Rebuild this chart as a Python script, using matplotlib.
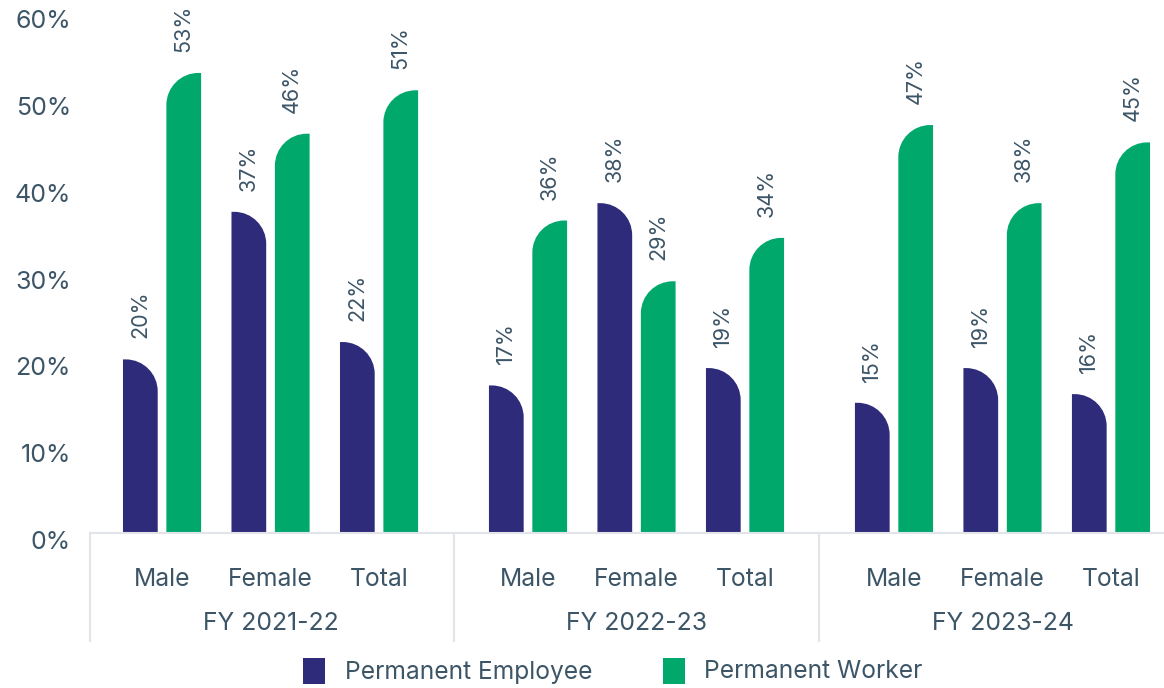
import matplotlib
matplotlib.use("Agg")
import matplotlib.pyplot as plt
from matplotlib.path import Path
from matplotlib.patches import PathPatch, Rectangle
from matplotlib.transforms import ScaledTranslation, blended_transform_factory

# ---- data -------------------------------------------------------------
years = ["FY 2021-22", "FY 2022-23", "FY 2023-24"]
categories = ["Male", "Female", "Total"]
series_names = ["Permanent Employee", "Permanent Worker"]
employee = [20, 37, 22, 17, 38, 19, 15, 19, 16]
worker = [53, 46, 51, 36, 29, 34, 47, 38, 45]
yticks = [0, 10, 20, 30, 40, 50, 60]

# ---- style ------------------------------------------------------------
NAVY = "#2E2B7B"
GREEN = "#00A86B"
TEXT = "#3C5567"
LINE = "#E1E5EA"
plt.rcParams["font.family"] = ["Inter", "DejaVu Sans"]

W, H, DPI = 1164, 688, 100
fig = plt.figure(figsize=(W / DPI, H / DPI), dpi=DPI)
ax_left, ax_bottom, ax_top = 90, 533, 12.2
ax = fig.add_axes([ax_left / W, (H - ax_bottom) / H, 1 - ax_left / W,
                   (ax_bottom - ax_top) / H])

group_step = 3.373
bar_w = 0.32
off = 0.2
ymax = 60
px_per_unit_y = (ax_bottom - ax_top) / ymax
ry = 32 / px_per_unit_y          # corner radius in data units (vertical)
rx = 0.92 * bar_w                # corner radius in data units (horizontal)
K = 0.5523

positions = []
for g in range(len(years)):
    for c in range(len(categories)):
        positions.append(g * group_step + c)


def bar_path(xc, h, round_right):
    x0, x1 = xc - bar_w / 2, xc + bar_w / 2
    r_y = min(ry, h)
    if round_right:
        cx = x1 - rx
        verts = [(x0, 0), (x0, h), (cx, h),
                 (cx + K * rx, h), (x1, h - r_y + K * r_y), (x1, h - r_y),
                 (x1, 0), (x0, 0)]
        codes = [Path.MOVETO, Path.LINETO, Path.LINETO,
                 Path.CURVE4, Path.CURVE4, Path.CURVE4,
                 Path.LINETO, Path.CLOSEPOLY]
    else:
        cx = x0 + rx
        verts = [(x0, 0), (x0, h - r_y),
                 (x0, h - r_y + K * r_y), (cx - K * rx, h), (cx, h),
                 (x1, h), (x1, 0), (x0, 0)]
        codes = [Path.MOVETO, Path.LINETO,
                 Path.CURVE4, Path.CURVE4, Path.CURVE4,
                 Path.LINETO, Path.LINETO, Path.CLOSEPOLY]
    return Path(verts, codes)


for xc, e, w in zip(positions, employee, worker):
    for xb, val, color, rr in ((xc - off, e, NAVY, True),
                               (xc + off, w, GREEN, False)):
        ax.add_patch(PathPatch(bar_path(xb, val, rr), facecolor=color,
                               edgecolor="none"))
        ax.annotate(f"{val}%", (xb, val), xytext=(0, 21),
                    textcoords="offset pixels", rotation=90,
                    ha="center", va="bottom", fontsize=15.5, color=TEXT)

x_min = -0.664
x_max = x_min + (W - ax_left) / 108.5
ax.set_xlim(x_min, x_max)
ax.set_ylim(0, ymax)

for s in ax.spines.values():
    s.set_visible(False)
ax.axhline(0, color=LINE, lw=1.5, clip_on=False)

ax.set_xticks([])
ax.set_yticks(yticks)
ax.set_yticklabels([f"{t}%" for t in yticks])
ax.tick_params(axis="y", length=0, pad=13.7, labelsize=18, labelcolor=TEXT)
for lab in ax.get_yticklabels():
    lab.set_transform(lab.get_transform() +
                      ScaledTranslation(0, -7 / DPI, fig.dpi_scale_trans))

# category and year labels under the axis
trans = blended_transform_factory(ax.transData, ax.transAxes)
for xc, name in zip(positions, categories * len(years)):
    ax.annotate(name, (xc, 0), xycoords=trans, xytext=(0, -47),
                textcoords="offset pixels", ha="center", va="center",
                fontsize=17.8, color=TEXT)
for g, yr in enumerate(years):
    ax.annotate(yr, (g * group_step + 1, 0), xycoords=trans,
                xytext=(0, -90), textcoords="offset pixels",
                ha="center", va="center", fontsize=17.8, color=TEXT)

# group separators
sep_len = (641 - ax_bottom) / (ax_bottom - ax_top)
seps = [x_min + 0.004] + [g * group_step + 2 + (group_step - 2) / 2
                          for g in range(len(years) - 1)]
for xs in seps:
    ax.plot([xs, xs], [0, -sep_len], transform=trans, color=LINE, lw=1.5,
            clip_on=False)

# legend
legend_items = [(series_names[0], NAVY, 303, 345),
                (series_names[1], GREEN, 663, 704)]
for label, color, sx, tx in legend_items:
    fig.add_artist(Rectangle((sx / W, (H - 684) / H), 22 / W, 26 / H,
                             transform=fig.transFigure, facecolor=color,
                             edgecolor="none"))
    fig.text(tx / W, (H - 672) / H, label, ha="left", va="center",
             fontsize=17.7, color=TEXT)

fig.savefig("out.png", dpi=DPI)
